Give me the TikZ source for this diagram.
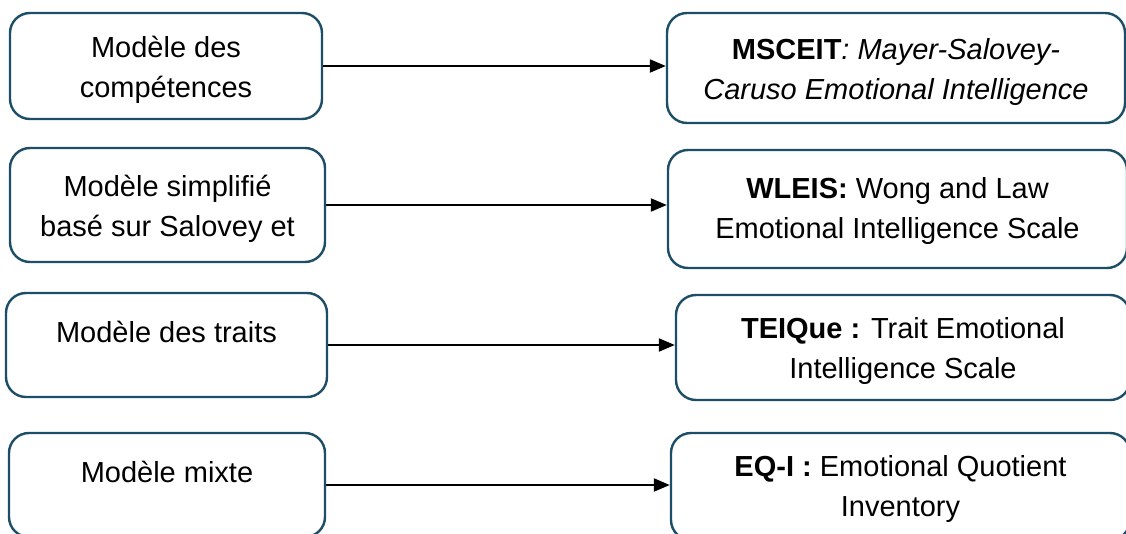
\documentclass[tikz,border=0pt]{standalone}
\usepackage{fontspec}
\setmainfont{Liberation Sans}
\usetikzlibrary{arrows.meta}
\definecolor{boxblue}{HTML}{1D4E68}
\begin{document}
\begin{tikzpicture}[x=1pt,y=-1pt,
  box/.style={draw=boxblue, line width=2.4pt, rounded corners=20pt, fill=white, inner sep=0pt},
  txt/.style={inner sep=0pt, align=center, font=\fontsize{29}{40}\selectfont},
  link/.style={draw=black, line width=2.2pt, -{Triangle[length=16pt,width=13pt]}}]
\useasboundingbox (0,0) rectangle (1126,533);
\clip (0,0) rectangle (1126,533);

\node[box, minimum width=312pt, minimum height=106pt] (L1) at (166,66) {};
\node[box, minimum width=315pt, minimum height=114pt] (L2) at (167.5,205) {};
\node[box, minimum width=321pt, minimum height=104pt] (L3) at (166.5,345) {};
\node[box, minimum width=316pt, minimum height=104pt] (L4) at (167,485) {};

\node[box, minimum width=458pt, minimum height=110pt] (R1) at (896,68) {};
\node[box, minimum width=459pt, minimum height=118pt] (R2) at (897.5,209) {};
\node[box, minimum width=454pt, minimum height=105pt] (R3) at (903,347.5) {};
\node[box, minimum width=459pt, minimum height=107pt] (R4) at (900.5,486.5) {};

\node[txt] (L1t) at (166,70) {Modèle des\\compétences};
\node[txt] (L2t) at (167.5,209) {Modèle simplifié\\basé sur Salovey et};
\node[txt] (L3t) at (166.5,332) {Modèle des traits};
\node[txt] (L4t) at (167,472) {Modèle mixte};

\node[txt] (R1t) at (896,72) {\textbf{MSCEIT}\textit{: Mayer-Salovey-}\\\textit{Caruso Emotional Intelligence}};
\node[txt] (R2t) at (897.5,211) {\textbf{WLEIS:} Wong and Law\\Emotional Intelligence Scale};
\node[txt] (R3t) at (903,351) {\textbf{TEIQue :} Trait Emotional\\Intelligence Scale};
\node[txt] (R4t) at (900.5,489) {\textbf{EQ-I :} Emotional Quotient\\Inventory};

\draw[link] (L1.east) -- (L1.east -| R1.west);
\draw[link] (L2.east) -- (L2.east -| R2.west);
\draw[link] (L3.east) -- (L3.east -| R3.west);
\draw[link] (L4.east) -- (L4.east -| R4.west);
\end{tikzpicture}
\end{document}
